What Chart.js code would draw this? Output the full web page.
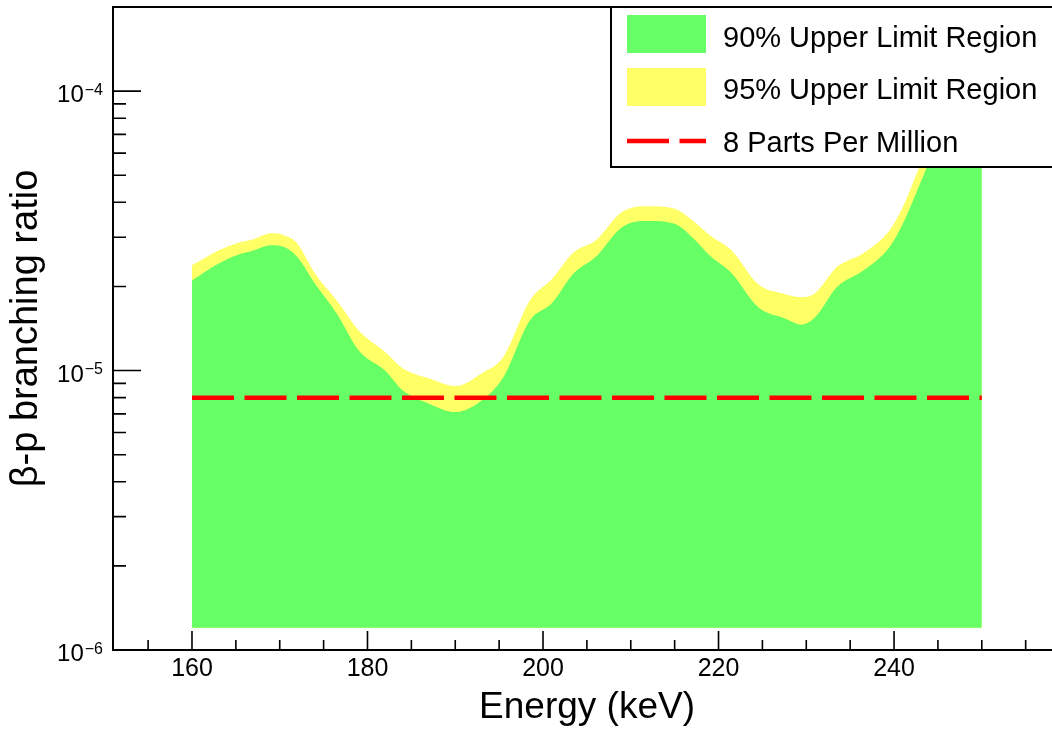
<!DOCTYPE html>
<html>
<head>
<meta charset="utf-8">
<script src="https://cdn.jsdelivr.net/npm/chart.js@4.4.0/dist/chart.umd.min.js"></script>
<style>
  html, body { margin: 0; padding: 0; background: #fff; }
  canvas { display: block; }
</style>
</head>
<body>
<canvas id="limit-chart" width="1052" height="730"></canvas>
<script>
// energies in keV, limits
const energies = [160, 163, 165, 167, 169, 170.5, 172, 174, 176.5, 179, 182, 184, 187, 190, 193, 195.5, 198.5, 201, 203.5, 206, 209, 212, 215, 217, 219, 221.5, 224.5, 227.5, 229.5, 231, 233.5, 236.5, 239.5, 241, 242.5, 244, 246, 248, 250];
const limit90 = [2.10e-5, 2.41e-5, 2.58e-5, 2.69e-5, 2.81e-5, 2.77e-5, 2.55e-5, 2.05e-5, 1.60e-5, 1.18e-5, 1.00e-5, 8.5e-6, 7.61e-6, 7.10e-6, 7.82e-6, 9.48e-6, 1.51e-5, 1.74e-5, 2.23e-5, 2.55e-5, 3.26e-5, 3.43e-5, 3.35e-5, 3.00e-5, 2.58e-5, 2.23e-5, 1.69e-5, 1.54e-5, 1.46e-5, 1.55e-5, 1.99e-5, 2.28e-5, 2.77e-5, 3.35e-5, 4.3e-5, 5.6e-5, 8e-5, 1.0e-4, 1.1e-4];
const limit95 = [2.38e-5, 2.69e-5, 2.85e-5, 2.95e-5, 3.10e-5, 3.05e-5, 2.85e-5, 2.23e-5, 1.78e-5, 1.39e-5, 1.165e-5, 1.02e-5, 9.38e-6, 8.80e-6, 9.77e-6, 1.12e-5, 1.78e-5, 2.12e-5, 2.65e-5, 2.92e-5, 3.69e-5, 3.87e-5, 3.79e-5, 3.45e-5, 3.05e-5, 2.69e-5, 2.04e-5, 1.88e-5, 1.83e-5, 1.89e-5, 2.35e-5, 2.63e-5, 3.18e-5, 3.85e-5, 5.0e-5, 6.5e-5, 9.5e-5, 1.15e-4, 1.2e-4];
const ppmLevel = 8e-6;
const fillFloor = 1.2e-6;

const xMajorTicks = [160, 180, 200, 220, 240];
const xTickLabels = ['160', '180', '200', '220', '240'];
const xMinorTicks = [155, 165, 170, 175, 185, 190, 195, 205, 210, 215, 225, 230, 235, 245, 250, 255];
const yDecades = [1e-6, 1e-5, 1e-4];
const yDecadeExps = ['\u22126', '\u22125', '\u22124'];
const legendLabels = ['90% Upper Limit Region', '95% Upper Limit Region', '8 Parts Per Million'];

const GREEN = '#66ff66';
const YELLOW = '#ffff66';
const RED = '#ff0000';
const FONT = '"Liberation Sans", Arial, Helvetica, sans-serif';

// ROOT-ish frame, inward ticks, labels and the boxed legend
const rootFrame = {
  id: 'rootFrame',
  afterDatasetsDraw(chart) {
    const ctx = chart.ctx;
    const area = chart.chartArea;
    const xs = chart.scales.x;
    const ys = chart.scales.y;
    ctx.save();
    ctx.strokeStyle = '#000';
    ctx.fillStyle = '#000';

    // ticks
    ctx.lineWidth = 1.6;
    ctx.beginPath();
    xMajorTicks.forEach(v => {
      const px = xs.getPixelForValue(v);
      ctx.moveTo(px, area.bottom);
      ctx.lineTo(px, area.bottom - 19);
    });
    xMinorTicks.forEach(v => {
      const px = xs.getPixelForValue(v);
      ctx.moveTo(px, area.bottom);
      ctx.lineTo(px, area.bottom - 10);
    });
    yDecades.forEach(d => {
      const py = ys.getPixelForValue(d);
      ctx.moveTo(area.left, py);
      ctx.lineTo(area.left + 28, py);
      for (let m = 2; m <= 9; m++) {
        const v = d * m;
        if (v >= ys.max) break;
        const pm = ys.getPixelForValue(v);
        ctx.moveTo(area.left, pm);
        ctx.lineTo(area.left + 13, pm);
      }
    });
    ctx.stroke();

    // frame
    ctx.lineWidth = 2;
    ctx.strokeRect(area.left, area.top, area.right - area.left + 4, area.bottom - area.top);

    // x tick labels
    ctx.font = '25px ' + FONT;
    ctx.textAlign = 'center';
    ctx.textBaseline = 'alphabetic';
    xMajorTicks.forEach((v, i) => {
      ctx.fillText(xTickLabels[i], xs.getPixelForValue(v), 676);
    });

    // y tick labels 10^n
    yDecades.forEach((d, i) => {
      const py = ys.getPixelForValue(d);
      ctx.font = '16px ' + FONT;
      ctx.textAlign = 'right';
      const supW = ctx.measureText(yDecadeExps[i]).width;
      ctx.fillText(yDecadeExps[i], 103, py + 3.5);
      ctx.font = '24px ' + FONT;
      ctx.fillText('10', 103 - supW - 1, py + 11);
    });

    // axis titles
    ctx.font = '37px ' + FONT;
    ctx.textAlign = 'center';
    ctx.fillText('Energy (keV)', 587, 718);
    ctx.save();
    ctx.translate(37, (area.top + area.bottom) / 2);
    ctx.rotate(-Math.PI / 2);
    ctx.font = '38px ' + FONT;
    ctx.fillText('\u03b2-p branching ratio', 0, 0);
    ctx.restore();

    // legend box
    const lx = 611, ly = area.top, lw = 460, lh = 167 - area.top;
    ctx.fillStyle = '#fff';
    ctx.fillRect(lx, ly, lw, lh);
    ctx.lineWidth = 2;
    ctx.strokeStyle = '#000';
    ctx.strokeRect(lx, ly, lw, lh);

    ctx.fillStyle = GREEN;
    ctx.fillRect(627, 15, 79, 38);
    ctx.fillStyle = YELLOW;
    ctx.fillRect(627, 68, 79, 38);
    ctx.strokeStyle = RED;
    ctx.lineWidth = 4.5;
    ctx.setLineDash([42, 10.5]);
    ctx.beginPath();
    ctx.moveTo(627, 141);
    ctx.lineTo(706, 141);
    ctx.stroke();
    ctx.setLineDash([]);

    ctx.fillStyle = '#000';
    ctx.font = '29px ' + FONT;
    ctx.textAlign = 'left';
    ctx.fillText(legendLabels[0], 723, 46.7);
    ctx.fillText(legendLabels[1], 723, 99);
    ctx.fillText(legendLabels[2], 723, 151.7);
    ctx.restore();
  }
};

const toPoints = vals => energies.map((e, i) => ({ x: e, y: vals[i] }));

const ctx = document.getElementById('limit-chart');
const chart = new Chart(ctx, {
  type: 'line',
  data: {
    datasets: [{
      label: legendLabels[2],
      data: [{ x: energies[0], y: ppmLevel }, { x: energies[energies.length - 1], y: ppmLevel }],
      borderColor: RED,
      borderWidth: 4.5,
      borderDash: [42, 10.5],
      borderCapStyle: 'butt',
      pointRadius: 0,
      fill: false,
      order: 0
    }, {
      label: legendLabels[0],
      data: toPoints(limit90),
      borderWidth: 0,
      borderColor: GREEN,
      backgroundColor: GREEN,
      pointRadius: 0,
      cubicInterpolationMode: 'monotone',
      fill: { value: fillFloor },
      order: 1
    }, {
      label: legendLabels[1],
      data: toPoints(limit95),
      borderWidth: 0,
      borderColor: YELLOW,
      backgroundColor: YELLOW,
      pointRadius: 0,
      cubicInterpolationMode: 'monotone',
      fill: { value: fillFloor },
      order: 2
    }]
  },
  options: {
    responsive: false,
    devicePixelRatio: 1,
    animation: false,
    events: [],
    layout: { padding: { left: 113, top: 7, right: 0, bottom: 80 } },
    scales: {
      x: { type: 'linear', min: 151, max: 258, display: false },
      y: { type: 'logarithmic', min: 1e-6, max: 2e-4, display: false }
    },
    plugins: {
      legend: { display: false },
      tooltip: { enabled: false }
    }
  },
  plugins: [rootFrame]
});
</script>
</body>
</html>
